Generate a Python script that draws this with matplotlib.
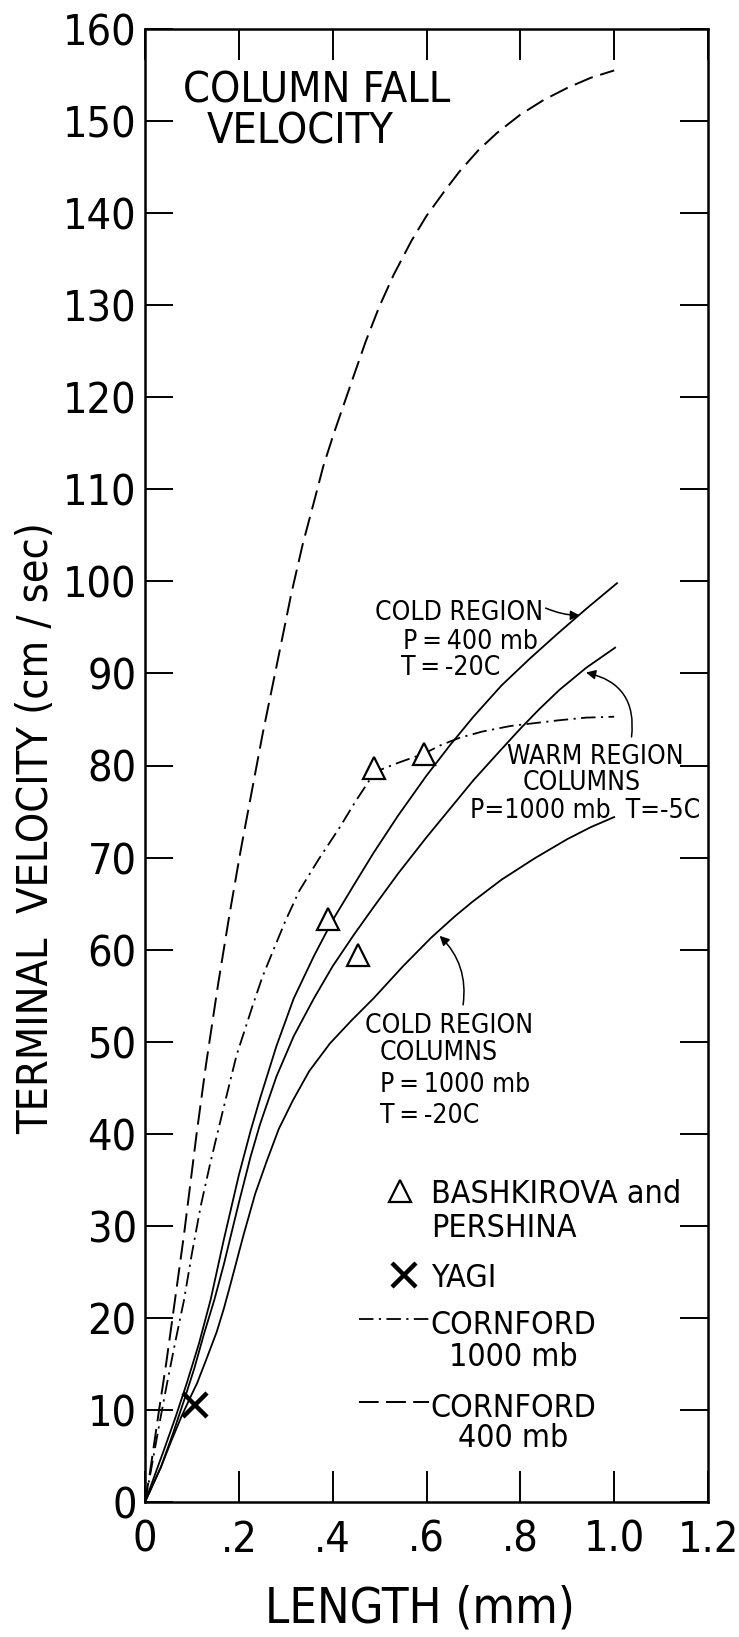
import numpy as np
import matplotlib.pyplot as plt

plt.rcParams['font.family'] = ['Liberation Sans Narrow', 'DejaVu Sans']
plt.rcParams['font.stretch'] = 'condensed'

# curves (length mm, velocity cm/s)
cold400_x = [0, 0.02, 0.04, 0.065, 0.089, 0.115, 0.14, 0.168, 0.20, 0.225, 0.245, 0.28, 0.317, 0.36,
             0.40, 0.445, 0.487, 0.54, 0.60, 0.65, 0.70, 0.76, 0.82, 0.879, 0.94, 1.006]
cold400_y = [0, 2.8, 5.6, 9.2, 12.9, 17.2, 22.0, 28.5, 35.5, 40.3, 43.8, 49.5, 54.7, 59.3,
             63.2, 67.0, 70.5, 74.6, 78.9, 82.2, 85.3, 88.7, 91.6, 94.3, 97.0, 99.8]

warm_x = [0, 0.034, 0.06, 0.083, 0.105, 0.126, 0.148, 0.168, 0.20, 0.225, 0.245, 0.28, 0.317, 0.36,
          0.40, 0.445, 0.487, 0.54, 0.60, 0.65, 0.70, 0.755, 0.80, 0.84, 0.883, 0.94, 1.002]
warm_y = [0, 3.8, 7.5, 11.0, 14.5, 18.3, 22.0, 25.8, 32.5, 37.5, 41.0, 46.2, 50.6, 54.7,
          58.2, 61.6, 64.6, 68.3, 72.2, 75.3, 78.4, 81.5, 84.0, 86.1, 88.2, 90.6, 92.8]

cold1000_x = [0, 0.034, 0.055, 0.077, 0.095, 0.111, 0.13, 0.153, 0.168, 0.183, 0.197, 0.21, 0.235,
              0.26, 0.285, 0.315, 0.35, 0.394, 0.44, 0.487, 0.55, 0.61, 0.66, 0.698, 0.76, 0.83,
              0.90, 0.95, 1.0]
cold1000_y = [0, 3.8, 6.5, 9.2, 11.2, 12.9, 15.4, 18.5, 21.0, 23.8, 26.5, 29.0, 33.5,
              37.1, 40.5, 43.6, 46.8, 49.8, 52.3, 54.7, 58.2, 61.3, 63.6, 65.2, 67.6, 69.9,
              72.0, 73.3, 74.4]

corn400_x = [0, 0.01, 0.02, 0.03, 0.045, 0.06, 0.083, 0.11, 0.13, 0.156, 0.18, 0.204, 0.228, 0.251,
             0.28, 0.312, 0.336, 0.361, 0.38, 0.402, 0.444, 0.47, 0.499, 0.53, 0.568, 0.60, 0.64,
             0.67, 0.71, 0.75, 0.80, 0.85, 0.90, 0.95, 1.0]
corn400_y = [0, 3, 6.5, 10, 15, 20.5, 29, 40, 47.5, 56.3, 63.8, 70.8, 77.3, 83.5,
             90.7, 98.7, 104, 108.8, 112.5, 116, 122.2, 126, 129.8, 133.3, 137, 139.7, 142.5,
             144.5, 146.8, 148.7, 150.7, 152.3, 153.6, 154.7, 155.5]

corn1000_x = [0, 0.013, 0.03, 0.047, 0.065, 0.083, 0.10, 0.119, 0.14, 0.166, 0.195, 0.23, 0.25, 0.274,
              0.30, 0.329, 0.37, 0.414, 0.45, 0.49, 0.54, 0.595, 0.63, 0.67, 0.72, 0.78, 0.88, 0.94, 1.0]
corn1000_y = [0, 3.5, 8.3, 12.9, 17.5, 21.9, 27, 32.2, 37, 42.5, 48.5, 54, 57, 60,
              63.2, 66.4, 69.8, 73.2, 76.2, 79.3, 80.3, 81.3, 82.2, 83.0, 83.7, 84.3, 84.9, 85.2, 85.3]

bash_x = [0.391, 0.453, 0.489, 0.595]
bash_y = [63.3, 59.4, 79.7, 81.2]

yagi_x = [0.107]
yagi_y = [10.5]

xticks = [0, 0.2, 0.4, 0.6, 0.8, 1.0, 1.2]
xticklabels = ['0', '.2', '.4', '.6', '.8', '1.0', '1.2']
yticks = list(range(0, 161, 10))

fig = plt.figure(figsize=(7.39, 16.37), dpi=100)
ax = fig.add_axes([145 / 739, 1 - 1502 / 1637, 563 / 739, 1473 / 1637])

lw = 1.3
ax.plot(cold400_x, cold400_y, 'k-', lw=lw)
ax.plot(warm_x, warm_y, 'k-', lw=lw)
ax.plot(cold1000_x, cold1000_y, 'k-', lw=lw)
l400, = ax.plot(corn400_x, corn400_y, color='k', lw=1.4, ls=(0, (10, 4)))
l1000, = ax.plot(corn1000_x, corn1000_y, color='k', lw=1.3, ls=(0, (8, 3, 1.2, 3)))
tri, = ax.plot(bash_x, bash_y, ls='none', marker='^', ms=16, mfc='white', mec='k', mew=1.6, zorder=5)
yag, = ax.plot(yagi_x, yagi_y, ls='none', marker='x', ms=17, mec='k', mew=3.2, zorder=5)

ax.set_xlim(0, 1.2)
ax.set_ylim(0, 160)
ax.set_xticks(xticks)
ax.set_xticklabels(xticklabels)
ax.set_yticks(yticks)
ax.tick_params(direction='in', width=1.4, top=True, right=True, labelsize=31)
ax.tick_params(axis='y', length=20, pad=6)
ax.tick_params(axis='x', length=22, pad=12)
for s in ax.spines.values():
    s.set_linewidth(1.8)

ax.set_xlabel('LENGTH (mm)', fontsize=35)
ax.xaxis.set_label_coords(0.488, -0.056)
fig.text(36 / 739, 0.494, 'TERMINAL  VELOCITY (cm / sec)', rotation=90,
         ha='center', va='center', fontsize=31)

# title
ax.text(0.366, 152.0, 'COLUMN FALL', ha='center', va='baseline', fontsize=31)
ax.text(0.33, 147.6, 'VELOCITY', ha='center', va='baseline', fontsize=31)

ts = '\u2009'
fs = 19
ax.text(0.491, 95.8, 'COLD REGION', fontsize=fs, va='baseline')
ax.text(0.55, 92.7, f'P{ts}={ts}400 mb', fontsize=fs, va='baseline')
ax.text(0.546, 89.8, f'T{ts}={ts}-20C', fontsize=fs, va='baseline')
ax.annotate('', xy=(0.927, 96.3), xytext=(0.854, 97.1),
            arrowprops=dict(arrowstyle='-|>', color='k', lw=1.1, shrinkA=0, shrinkB=0,
                            mutation_scale=14, connectionstyle='arc3,rad=0.1'))

ax.text(0.771, 80.2, 'WARM REGION', fontsize=fs, va='baseline')
ax.text(0.804, 77.3, 'COLUMNS', fontsize=fs, va='baseline')
ax.text(0.693, 74.3, 'P=1000 mb  T=-5C', fontsize=fs, va='baseline')
ax.annotate('', xy=(0.94, 90.1), xytext=(1.037, 83.1),
            arrowprops=dict(arrowstyle='-|>', color='k', lw=1.1, shrinkA=0, shrinkB=0,
                            mutation_scale=14, connectionstyle='arc3,rad=0.45'))

ax.text(0.469, 50.9, 'COLD REGION', fontsize=fs, va='baseline')
ax.text(0.5, 48.0, 'COLUMNS', fontsize=fs, va='baseline')
ax.text(0.5, 44.5, f'P{ts}={ts}1000 mb', fontsize=fs, va='baseline')
ax.text(0.5, 41.2, f'T{ts}={ts}-20C', fontsize=fs, va='baseline')
ax.annotate('', xy=(0.628, 61.5), xytext=(0.678, 54.0),
            arrowprops=dict(arrowstyle='-|>', color='k', lw=1.1, shrinkA=0, shrinkB=0,
                            mutation_scale=14, connectionstyle='arc3,rad=0.25'))

# key
lf = 23
ax.text(0.609, 35.1, 'BASHKIROVA and\nPERSHINA', fontsize=lf, va='top', linespacing=1.13)
ax.text(0.609, 23.3, 'YAGI', fontsize=lf, va='baseline')
ax.text(0.609, 20.9, 'CORNFORD\n1000 mb', fontsize=lf, va='top', multialignment='center',
        linespacing=1.05)
ax.text(0.609, 11.8, 'CORNFORD\n400 mb', fontsize=lf, va='top', multialignment='center',
        linespacing=0.93)

for h, xl, yc in [(tri, 0.468, 33.5), (yag, 0.478, 24.4), (l1000, 0.457, 19.6), (l400, 0.457, 10.6)]:
    leg = ax.legend(handles=[h], labels=[''], loc='center left', bbox_to_anchor=(xl, yc),
                    bbox_transform=ax.transData, frameon=False, borderpad=0, borderaxespad=0,
                    handletextpad=0, handlelength=2.1, numpoints=1, fontsize=24)
    ax.add_artist(leg)

fig.savefig('out.png', dpi=100)
